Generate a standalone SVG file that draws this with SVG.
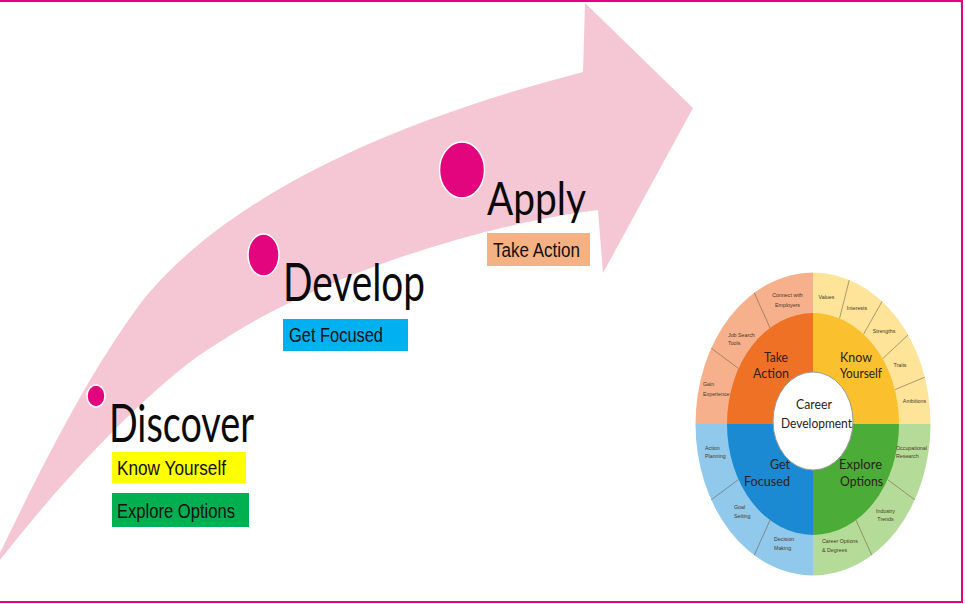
<svg xmlns="http://www.w3.org/2000/svg" width="965" height="604" viewBox="0 0 965 604">
<style>
.big{font-family:Lato,"Open Sans","Liberation Sans",sans-serif;fill:#0a0a0a}
.tag{font-family:"Liberation Sans Narrow","Liberation Sans",Arial,sans-serif;font-size:20px;fill:#111}
.dot{fill:#e2057e;stroke:#fff;stroke-width:1.5}
.wl{font-family:Lato,"Open Sans","Liberation Sans",sans-serif;font-size:14px;fill:#2a2118;text-anchor:middle}
.sl{font-family:"Liberation Sans",Arial,sans-serif;font-size:5.3px;fill:#4a3826}
.mid{text-anchor:middle}
.div{stroke:#6e5a48;stroke-width:0.8;stroke-opacity:0.7;fill:none}
</style>
<rect x="0" y="0" width="965" height="604" fill="#ffffff"/>

<g id="connectors">
<path id="arrow" d="M 0,553 C 40,470 90,370 143,300 C 200,230 320,140 583,72 L 585,3 L 693,108 L 603,273 L 598,210 C 480,225 320,275 215,345 C 160,378 70,470 0,560 Z" fill="#f5c7d4"/>
</g>

<g id="discover">
<ellipse class="dot" cx="96" cy="396" rx="9" ry="11"/>
<text class="big" x="109" y="442" font-size="52" textLength="145" lengthAdjust="spacingAndGlyphs">Discover</text>
<rect x="112" y="452" width="134" height="31" fill="#ffff00"/>
<text class="tag" x="117" y="475" font-size="21" textLength="109" lengthAdjust="spacingAndGlyphs">Know Yourself</text>
<rect x="112" y="493" width="137" height="34" fill="#00b050"/>
<text class="tag" x="117" y="518" font-size="21" textLength="118" lengthAdjust="spacingAndGlyphs">Explore Options</text>
</g>

<g id="develop">
<ellipse class="dot" cx="263.5" cy="255" rx="15.5" ry="21"/>
<text class="big" x="283" y="301" font-size="52" textLength="142" lengthAdjust="spacingAndGlyphs">Develop</text>
<rect x="283" y="319" width="125" height="32" fill="#00b0f0"/>
<text class="tag" x="289" y="342" textLength="94" lengthAdjust="spacingAndGlyphs">Get Focused</text>
</g>

<g id="apply">
<ellipse class="dot" cx="462" cy="170" rx="22.5" ry="28"/>
<text class="big" x="487" y="215" font-size="46" textLength="99" lengthAdjust="spacingAndGlyphs">Apply</text>
<rect x="487" y="233" width="103" height="33" fill="#f4b183"/>
<text class="tag" x="493" y="257" textLength="87" lengthAdjust="spacingAndGlyphs">Take Action</text>
</g>

<g id="wheel">
<path d="M813,424 L695.5,424 A117.5,151.5 0 0 1 813,272.5 Z" fill="#f6b18c"/>
<path d="M813,424 L813,272.5 A117.5,151.5 0 0 1 930.5,424 Z" fill="#fde499"/>
<path d="M813,424 L930.5,424 A117.5,151.5 0 0 1 813,575.5 Z" fill="#b4dc98"/>
<path d="M813,424 L813,575.5 A117.5,151.5 0 0 1 695.5,424 Z" fill="#90c9eb"/>
<g class="div">
<line x1="924.75" y1="377.19" x2="894.79" y2="389.7"/>
<line x1="908.06" y1="334.95" x2="882.57" y2="358.75"/>
<line x1="882.07" y1="301.44" x2="863.55" y2="334.2"/>
<line x1="849.31" y1="279.91" x2="839.57" y2="318.43"/>
<line x1="754.25" y1="292.8" x2="770" y2="327.87"/>
<line x1="711.24" y1="348.25" x2="738.52" y2="368.5"/>
<line x1="711.24" y1="499.75" x2="738.52" y2="479.5"/>
<line x1="754.25" y1="555.2" x2="770" y2="520.13"/>
<line x1="871.75" y1="555.2" x2="856" y2="520.13"/>
<line x1="914.76" y1="499.75" x2="887.48" y2="479.5"/>
</g>
<path d="M813,424 L727,424 A86,111 0 0 1 813,313 Z" fill="#ef7126"/>
<path d="M813,424 L813,313 A86,111 0 0 1 899,424 Z" fill="#fbc02d"/>
<path d="M813,424 L899,424 A86,111 0 0 1 813,535 Z" fill="#4cac38"/>
<path d="M813,424 L813,535 A86,111 0 0 1 727,424 Z" fill="#1b8ad2"/>
<ellipse cx="813" cy="421" rx="40" ry="49" fill="#ffffff" stroke="#9a9a9a" stroke-width="1"/>

<text class="wl" x="776" y="362" textLength="24" lengthAdjust="spacingAndGlyphs">Take</text>
<text class="wl" x="771" y="378" textLength="36" lengthAdjust="spacingAndGlyphs">Action</text>
<text class="wl" x="856" y="362" textLength="32" lengthAdjust="spacingAndGlyphs">Know</text>
<text class="wl" x="861" y="378" textLength="42" lengthAdjust="spacingAndGlyphs">Yourself</text>
<text class="wl" x="814" y="409" textLength="36" lengthAdjust="spacingAndGlyphs">Career</text>
<text class="wl" x="816.5" y="428" textLength="71" lengthAdjust="spacingAndGlyphs">Development</text>
<text class="wl" x="780" y="469" textLength="20" lengthAdjust="spacingAndGlyphs">Get</text>
<text class="wl" x="767" y="486" textLength="46" lengthAdjust="spacingAndGlyphs">Focused</text>
<text class="wl" x="860.5" y="469" textLength="43" lengthAdjust="spacingAndGlyphs">Explore</text>
<text class="wl" x="861.5" y="486" textLength="43" lengthAdjust="spacingAndGlyphs">Options</text>

<text class="sl mid" x="787.5" y="297">Connect with</text>
<text class="sl mid" x="787.5" y="306.5">Employers</text>
<text class="sl mid" x="826.5" y="299">Values</text>
<text class="sl mid" x="857" y="310">Interests</text>
<text class="sl mid" x="884" y="333">Strengths</text>
<text class="sl mid" x="900" y="367">Traits</text>
<text class="sl mid" x="914.5" y="403">Ambitions</text>
<text class="sl" x="728" y="337">Job Search</text>
<text class="sl" x="728" y="345">Tools</text>
<text class="sl" x="703" y="386">Gain</text>
<text class="sl" x="703" y="396">Experience</text>
<text class="sl" x="705" y="450">Action</text>
<text class="sl" x="705" y="458">Planning</text>
<text class="sl" x="734" y="509">Goal</text>
<text class="sl" x="734" y="518">Setting</text>
<text class="sl" x="774" y="541">Decision</text>
<text class="sl" x="774" y="550">Making</text>
<text class="sl" x="896" y="450">Occupational</text>
<text class="sl" x="896" y="458">Research</text>
<text class="sl mid" x="885.5" y="513">Industry</text>
<text class="sl mid" x="885.5" y="521">Trends</text>
<text class="sl" x="822" y="543">Career Options</text>
<text class="sl" x="822" y="552">&amp; Degrees</text>
</g>

<rect x="-5" y="1" width="967" height="601" fill="none" stroke="#e6007e" stroke-width="2"/>
</svg>
